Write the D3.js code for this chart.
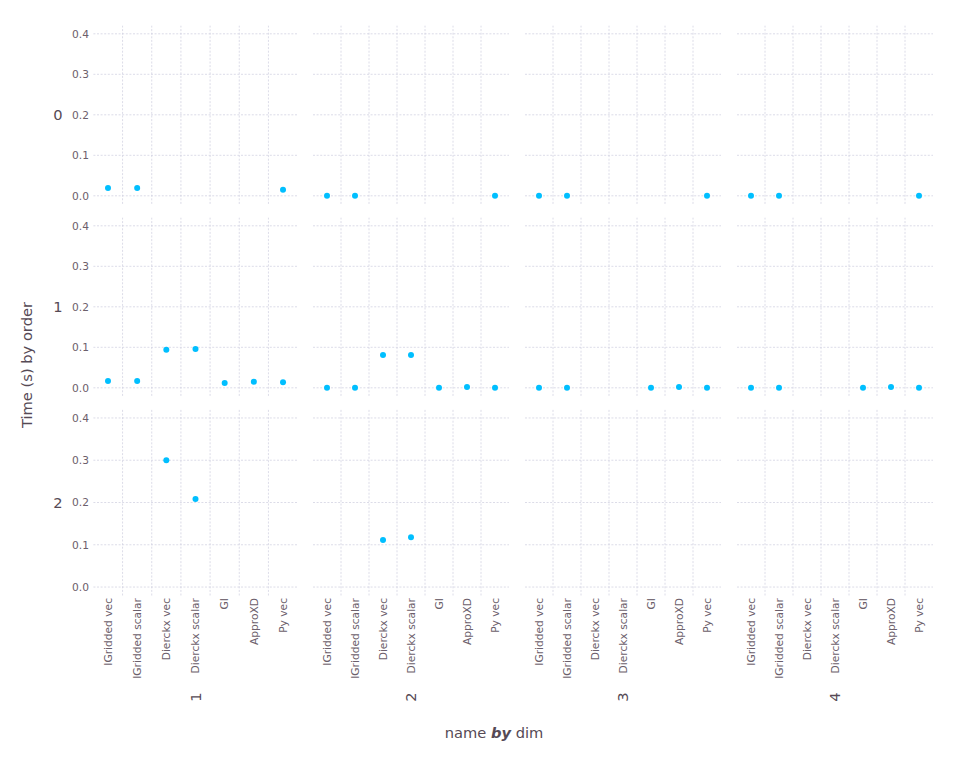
<!DOCTYPE html>
<html>
<head>
<meta charset="utf-8">
<script src="https://cdn.jsdelivr.net/npm/d3@7"></script>
<style>
body { margin: 0; background: #fff; }
text { font-family: "DejaVu Sans", sans-serif; }
</style>
</head>
<body>
<svg id="chart" width="960" height="768"></svg>
<script>
const names = ["IGridded vec", "IGridded scalar", "Dierckx vec", "Dierckx scalar", "GI", "ApproXD", "Py vec"];
const dims = ["1", "2", "3", "4"];
const orders = ["0", "1", "2"];
const yTicks = [0.0, 0.1, 0.2, 0.3, 0.4];

// values[order][dim] = times per name (null = missing)
const order0 = [
  [0.019, 0.019, null, null, null, null, 0.015],
  [0.0, 0.0, null, null, null, null, 0.0],
  [0.0, 0.0, null, null, null, null, 0.0],
  [0.0, 0.0, null, null, null, null, 0.0]
];
const order1 = [
  [0.017, 0.017, 0.094, 0.096, 0.012, 0.015, 0.014],
  [0.0, 0.0, 0.081, 0.081, 0.0, 0.002, 0.0],
  [0.0, 0.0, null, null, 0.0, 0.002, 0.0],
  [0.0, 0.0, null, null, 0.0, 0.002, 0.0]
];
const order2 = [
  [null, null, 0.300, 0.208, null, null, null],
  [null, null, 0.111, 0.118, null, null, null],
  [null, null, null, null, null, null, null],
  [null, null, null, null, null, null, null]
];
const values = [order0, order1, order2];

const svg = d3.select("#chart");
const gridColor = "#D0D0E0";
const tickColor = "#6C606B";
const titleColor = "#564A55";
const pointColor = "#00BFFF";

const colRanges = [[93.4, 297.6], [313, 509], [525, 721], [737, 933]];
const rowRanges = [[203.9, 25.7], [395.9, 217.7], [595.5, 409.5]];

const yDomain = [-0.02, 0.42];

orders.forEach((ord, ri) => {
  const y = d3.scaleLinear().domain(yDomain).range(rowRanges[ri]);
  // y tick labels
  const yAxis = d3.axisLeft(y).tickValues(yTicks).tickFormat(d3.format(".1f")).tickSize(0).tickPadding(0);
  const ga = svg.append("g").attr("transform", "translate(89,0)").call(yAxis);
  ga.select(".domain").remove();
  ga.selectAll("text").attr("fill", tickColor).attr("font-size", "10.67px")
    .attr("font-family", "DejaVu Sans, sans-serif");

  // row label
  svg.append("text").attr("x", 58).attr("y", y(0.2)).attr("dy", "0.35em")
    .attr("text-anchor", "middle").attr("font-size", "14.67px").attr("fill", titleColor).text(ord);

  dims.forEach((dm, ci) => {
    const x = d3.scalePoint().domain(names).range(colRanges[ci]).padding(0.5);
    const step = x.step();
    const g = svg.append("g");
    // horizontal grid
    g.selectAll("line.h").data(yTicks).enter().append("line")
      .attr("x1", colRanges[ci][0]).attr("x2", colRanges[ci][1])
      .attr("y1", d => y(d)).attr("y2", d => y(d))
      .attr("stroke", gridColor).attr("stroke-width", 0.75).attr("stroke-dasharray", "2,1.6");
    // vertical grid between categories
    g.selectAll("line.v").data(names.slice(0, -1)).enter().append("line")
      .attr("x1", d => x(d) + step / 2).attr("x2", d => x(d) + step / 2)
      .attr("y1", rowRanges[ri][0]).attr("y2", rowRanges[ri][1])
      .attr("stroke", gridColor).attr("stroke-width", 0.75).attr("stroke-dasharray", "2,1.6");
    // points
    const pts = names.map((n, i) => ({ n, v: values[ri][ci][i] })).filter(d => d.v !== null);
    g.selectAll("circle").data(pts).enter().append("circle")
      .attr("cx", d => x(d.n)).attr("cy", d => y(d.v)).attr("r", 3)
      .attr("fill", pointColor);

    if (ri === orders.length - 1) {
      // x tick labels
      names.forEach(n => {
        svg.append("text")
          .attr("transform", `translate(${x(n)},598) rotate(-90)`)
          .attr("dy", "0.35em").attr("text-anchor", "end")
          .attr("font-size", "10.67px").attr("fill", tickColor).text(n);
      });
      // column label
      const cx = (colRanges[ci][0] + colRanges[ci][1]) / 2;
      svg.append("text")
        .attr("transform", `translate(${cx},697) rotate(-90)`)
        .attr("dy", "0.35em").attr("text-anchor", "middle")
        .attr("font-size", "14.67px").attr("fill", titleColor).text(dm);
    }
  });
});

// y title
svg.append("text").attr("transform", "translate(27,365) rotate(-90)")
  .attr("dy", "0.35em").attr("text-anchor", "middle").attr("font-size", "14.67px")
  .attr("fill", titleColor).text("Time (s) by order");

// x title
const xt = svg.append("text").attr("x", 494).attr("y", 733).attr("dy", "0.35em")
  .attr("text-anchor", "middle").attr("font-size", "14.67px").attr("fill", titleColor);
xt.append("tspan").text("name ");
xt.append("tspan").attr("font-weight", "bold").attr("font-style", "italic").text("by");
xt.append("tspan").text(" dim");
</script>
</body>
</html>
